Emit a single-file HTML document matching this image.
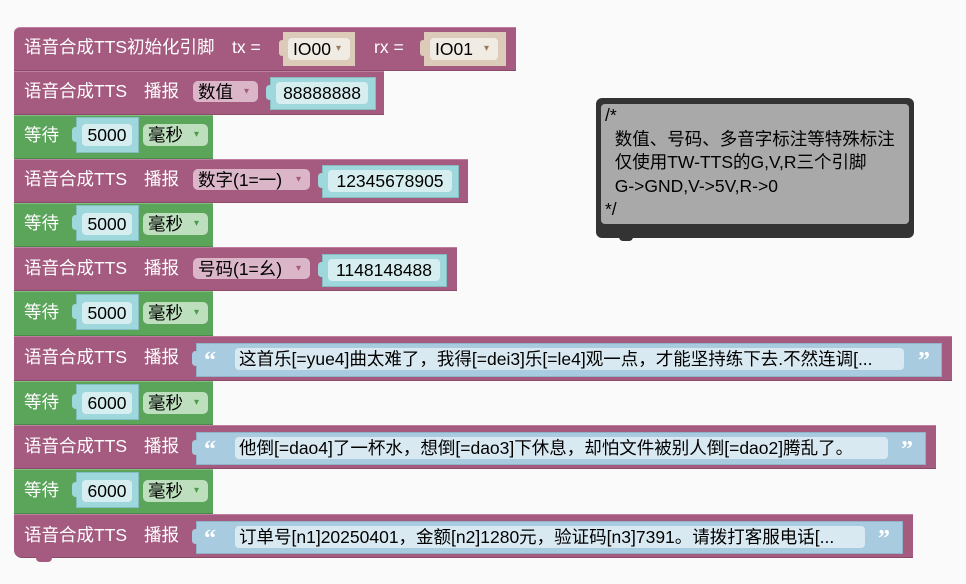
<!DOCTYPE html>
<html><head><meta charset="utf-8"><style>
*{margin:0;padding:0;box-sizing:border-box}
body{width:966px;height:584px;background:#fafafa;position:relative;overflow:hidden;font-family:"Liberation Sans","Noto Sans CJK SC",sans-serif;font-size:17px}
div{position:absolute}
.p{background:#a55b80;border-bottom:1px solid #8a4a6a;border-top:1px solid #c07fa0}
.g{background:#5ba55b;border-bottom:1px solid #4a8a4a;border-top:1px solid #7fc07f}
.t{color:#fff;line-height:20px;white-space:nowrap;font-size:17.5px}
.k{color:#000;line-height:20px;white-space:nowrap;text-align:center;font-size:17.5px}
.teal{background:#9fd8dc;border:1px solid #86bcc0}
.fld{background:#d6eef0;border-radius:4px}
.dd{border-radius:5px;color:#000;line-height:22px;padding-left:5px;white-space:nowrap;font-size:17.5px}
.dd:after{content:"▾";font-size:10px;position:absolute;right:9px;top:0;color:#a55b80}
.gd:after{color:#4a9a4a}
.io:after{color:#9a7a5a}
.str{background:#a8cbe0;border:1px solid #8fb3c9}
.sf{background:#d9e9f2;border-radius:4px;color:#000;line-height:22px;padding-left:4px;white-space:nowrap;overflow:hidden;font-size:17.5px}
.q{color:#fff;font-weight:bold;font-size:24px;line-height:22px;font-family:"Liberation Serif",serif}
</style></head><body>

<!-- Row1 -->
<div class="p" style="left:14px;top:27px;width:502px;height:44px;border-top-left-radius:6px"></div>
<div class="t" style="left:24px;top:37px">语音合成TTS初始化引脚</div>
<div class="t" style="left:232px;top:37px">tx =</div>
<div style="left:283px;top:32px;width:72px;height:34px;background:#dccbb8"></div>
<div style="left:288px;top:38px;width:62px;height:22px;background:#f0ebe3;border-radius:4px" class="dd io">IO00</div>
<div style="left:279px;top:40px;width:6px;height:16px;background:#dccbb8;border-radius:3px"></div>
<div class="t" style="left:374px;top:37px">rx =</div>
<div style="left:424px;top:32px;width:82px;height:34px;background:#dccbb8"></div>
<div style="left:430px;top:38px;width:68px;height:22px;background:#f0ebe3;border-radius:4px" class="dd io">IO01</div>
<div style="left:420px;top:40px;width:6px;height:16px;background:#dccbb8;border-radius:3px"></div>

<!-- Row2 -->
<div class="p" style="left:14px;top:71px;width:370px;height:44px"></div>
<div class="t" style="left:24px;top:81px">语音合成TTS</div>
<div class="t" style="left:144px;top:81px">播报</div>
<div class="dd" style="left:193px;top:81px;width:65px;height:21px;background:#dbb6c9">数值</div>
<div class="teal" style="left:270px;top:77px;width:106px;height:33px"></div>
<div class="fld k" style="left:276px;top:82px;width:92px;height:22px;line-height:22px">88888888</div>

<!-- Wait rows -->
<div class="g" style="left:14px;top:115px;width:199px;height:44px"></div>
<div class="t" style="left:24px;top:125px">等待</div>
<div class="teal" style="left:76px;top:117px;width:63px;height:36px"></div>
<div class="fld k" style="left:82px;top:124px;width:50px;height:22px;line-height:22px">5000</div>
<div class="dd gd" style="left:143px;top:124px;width:65px;height:22px;background:#bddfbd">毫秒</div>

<!-- Row4 -->
<div class="p" style="left:14px;top:159px;width:454px;height:44px"></div>
<div class="t" style="left:24px;top:169px">语音合成TTS</div>
<div class="t" style="left:144px;top:169px">播报</div>
<div class="dd" style="left:193px;top:169px;width:117px;height:21px;background:#dbb6c9">数字(1=一)</div>
<div class="teal" style="left:322px;top:165px;width:137px;height:33px"></div>
<div class="fld k" style="left:328px;top:170px;width:124px;height:22px;line-height:22px">12345678905</div>

<div class="g" style="left:14px;top:203px;width:199px;height:44px"></div>
<div class="t" style="left:24px;top:213px">等待</div>
<div class="teal" style="left:76px;top:205px;width:63px;height:36px"></div>
<div class="fld k" style="left:82px;top:213px;width:50px;height:22px;line-height:22px">5000</div>
<div class="dd gd" style="left:143px;top:213px;width:65px;height:22px;background:#bddfbd">毫秒</div>

<!-- Row6 -->
<div class="p" style="left:14px;top:247px;width:443px;height:44px"></div>
<div class="t" style="left:24px;top:258px">语音合成TTS</div>
<div class="t" style="left:144px;top:258px">播报</div>
<div class="dd" style="left:193px;top:258px;width:117px;height:21px;background:#dbb6c9">号码(1=幺)</div>
<div class="teal" style="left:322px;top:254px;width:125px;height:33px"></div>
<div class="fld k" style="left:328px;top:259px;width:112px;height:22px;line-height:22px">1148148488</div>

<div class="g" style="left:14px;top:291px;width:199px;height:45px"></div>
<div class="t" style="left:24px;top:302px">等待</div>
<div class="teal" style="left:76px;top:294px;width:63px;height:36px"></div>
<div class="fld k" style="left:82px;top:302px;width:50px;height:22px;line-height:22px">5000</div>
<div class="dd gd" style="left:143px;top:302px;width:65px;height:22px;background:#bddfbd">毫秒</div>

<!-- Row8 -->
<div class="p" style="left:14px;top:336px;width:938px;height:45px"></div>
<div class="t" style="left:24px;top:347px">语音合成TTS</div>
<div class="t" style="left:144px;top:347px">播报</div>
<div class="str" style="left:196px;top:343px;width:746px;height:34px"></div>
<div class="q" style="left:204px;top:350px">“</div>
<div class="sf" style="left:235px;top:348px;width:669px;height:22px">这首乐[=yue4]曲太难了，我得[=dei3]乐[=le4]观一点，才能坚持练下去.不然连调[...</div>
<div class="q" style="left:918px;top:350px">”</div>

<div class="g" style="left:14px;top:381px;width:199px;height:44px"></div>
<div class="t" style="left:24px;top:392px">等待</div>
<div class="teal" style="left:76px;top:384px;width:63px;height:36px"></div>
<div class="fld k" style="left:82px;top:392px;width:50px;height:22px;line-height:22px">6000</div>
<div class="dd gd" style="left:143px;top:392px;width:65px;height:22px;background:#bddfbd">毫秒</div>

<!-- Row10 -->
<div class="p" style="left:14px;top:425px;width:922px;height:44px"></div>
<div class="t" style="left:24px;top:436px">语音合成TTS</div>
<div class="t" style="left:144px;top:436px">播报</div>
<div class="str" style="left:196px;top:432px;width:730px;height:33px"></div>
<div class="q" style="left:204px;top:439px">“</div>
<div class="sf" style="left:235px;top:437px;width:653px;height:22px">他倒[=dao4]了一杯水，想倒[=dao3]下休息，却怕文件被别人倒[=dao2]腾乱了。</div>
<div class="q" style="left:901px;top:439px">”</div>

<div class="g" style="left:14px;top:469px;width:199px;height:45px"></div>
<div class="t" style="left:24px;top:480px">等待</div>
<div class="teal" style="left:76px;top:472px;width:63px;height:36px"></div>
<div class="fld k" style="left:82px;top:480px;width:50px;height:22px;line-height:22px">6000</div>
<div class="dd gd" style="left:143px;top:480px;width:65px;height:22px;background:#bddfbd">毫秒</div>

<!-- Row12 -->
<div class="p" style="left:14px;top:514px;width:899px;height:44px;border-bottom-left-radius:8px"></div>
<div class="t" style="left:24px;top:525px">语音合成TTS</div>
<div class="t" style="left:144px;top:525px">播报</div>
<div class="str" style="left:196px;top:521px;width:707px;height:33px"></div>
<div class="q" style="left:204px;top:528px">“</div>
<div class="sf" style="left:235px;top:526px;width:630px;height:22px">订单号[n1]20250401，金额[n2]1280元，验证码[n3]7391。请拨打客服电话[...</div>
<div class="q" style="left:878px;top:528px">”</div>
<div style="left:36px;top:557px;width:16px;height:5px;background:#a55b80;border-radius:0 0 4px 4px"></div>

<!-- puzzle tabs -->
<div style="left:266px;top:85px;width:7px;height:15px;background:#9fd8dc;border-radius:4px"></div>
<div style="left:318px;top:173px;width:7px;height:15px;background:#9fd8dc;border-radius:4px"></div>
<div style="left:318px;top:262px;width:7px;height:15px;background:#9fd8dc;border-radius:4px"></div>
<div style="left:72px;top:127px;width:7px;height:15px;background:#9fd8dc;border-radius:4px"></div>
<div style="left:72px;top:215px;width:7px;height:15px;background:#9fd8dc;border-radius:4px"></div>
<div style="left:72px;top:304px;width:7px;height:15px;background:#9fd8dc;border-radius:4px"></div>
<div style="left:72px;top:394px;width:7px;height:15px;background:#9fd8dc;border-radius:4px"></div>
<div style="left:72px;top:482px;width:7px;height:15px;background:#9fd8dc;border-radius:4px"></div>
<div style="left:192px;top:351px;width:7px;height:15px;background:#a8cbe0;border-radius:4px"></div>
<div style="left:192px;top:440px;width:7px;height:15px;background:#a8cbe0;border-radius:4px"></div>
<div style="left:192px;top:529px;width:7px;height:15px;background:#a8cbe0;border-radius:4px"></div>

<!-- Comment -->
<div style="left:596px;top:98px;width:318px;height:140px;background:#333;border-radius:6px"></div>
<div style="left:619px;top:236px;width:14px;height:5px;background:#333;border-radius:0 0 4px 4px"></div>
<div style="left:601px;top:104px;width:308px;height:120px;background:#a9a9a9;border-radius:4px"></div>
<div style="left:605px;top:104px;font-size:17.5px;line-height:23.5px;color:#000;white-space:pre">/*
  数值、号码、多音字标注等特殊标注
  仅使用TW-TTS的G,V,R三个引脚
  G-&gt;GND,V-&gt;5V,R-&gt;0
*/</div>
</body></html>
